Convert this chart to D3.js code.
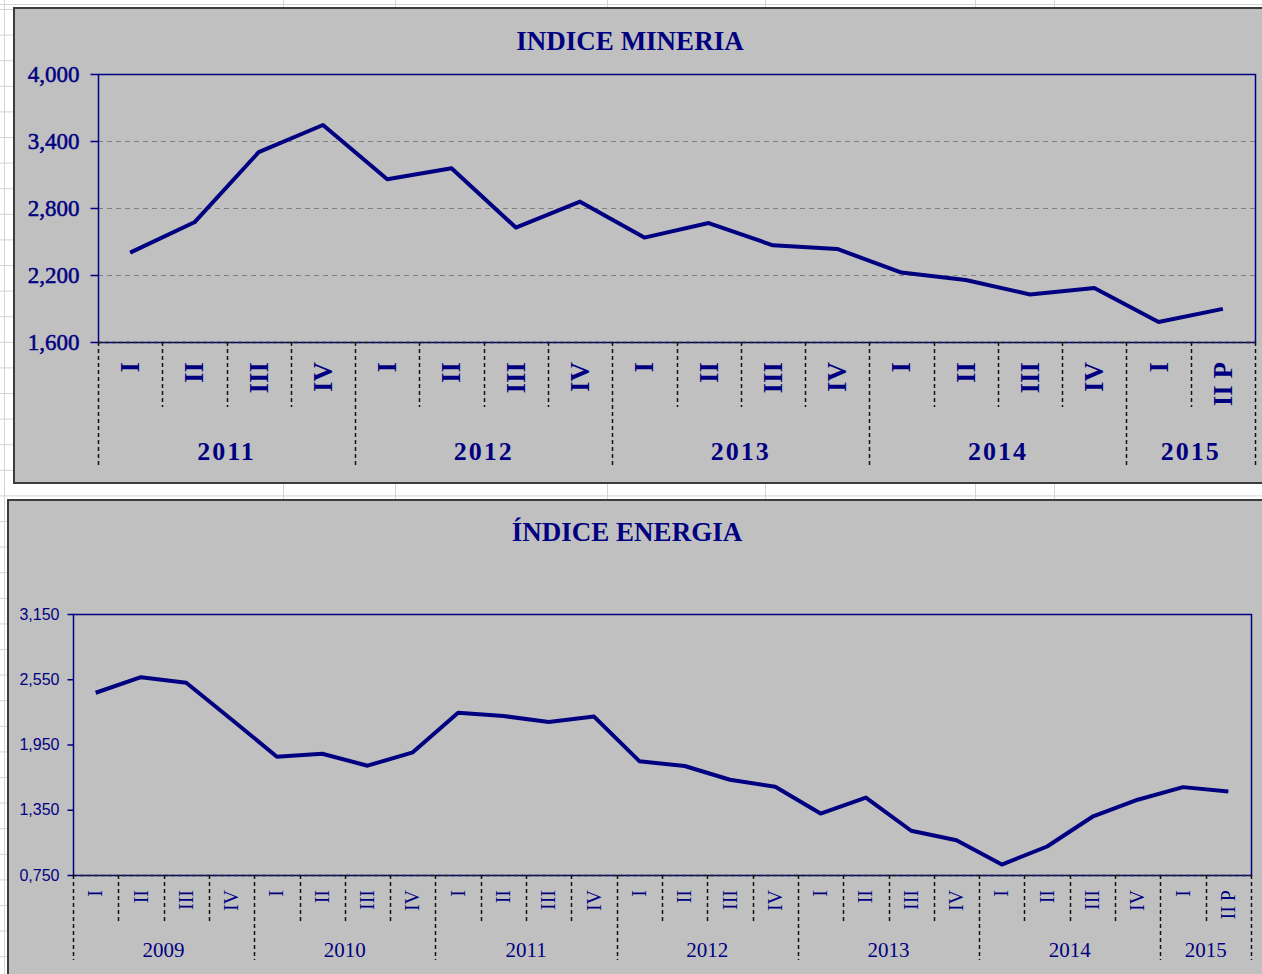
<!DOCTYPE html>
<html>
<head>
<meta charset="utf-8">
<script src="https://cdn.jsdelivr.net/npm/d3@7"></script>
<style>
  body { margin: 0; background: #fff; }
  svg { display: block; }
</style>
</head>
<body>
<div id="chart"></div>
<script>
// ---- data ----
const mineriaYears = ['2011', '2012', '2013', '2014', '2015'];
const mineriaQuarters = ['I', 'II', 'III', 'IV', 'I', 'II', 'III', 'IV', 'I', 'II', 'III', 'IV',
                         'I', 'II', 'III', 'IV', 'I', 'II P'];
const mineriaQuarterYear = ['2011', '2011', '2011', '2011', '2012', '2012', '2012', '2012',
                            '2013', '2013', '2013', '2013', '2014', '2014', '2014', '2014', '2015', '2015'];
const mineriaValues = [2400, 2672, 3300, 3543, 3057, 3156, 2625, 2857, 2535, 2665,
                       2466, 2433, 2222, 2155, 2026, 2084, 1779, 1897];
const mineriaTicks = [1600, 2200, 2800, 3400, 4000];
const mineriaTickLabels = ['1,600', '2,200', '2,800', '3,400', '4,000'];

const energiaYears = ['2009', '2010', '2011', '2012', '2013', '2014', '2015'];
const energiaQuarters = ['I', 'II', 'III', 'IV', 'I', 'II', 'III', 'IV', 'I', 'II', 'III', 'IV',
                         'I', 'II', 'III', 'IV', 'I', 'II', 'III', 'IV', 'I', 'II', 'III', 'IV', 'I', 'II P'];
const energiaQuarterYear = ['2009', '2009', '2009', '2009', '2010', '2010', '2010', '2010',
                            '2011', '2011', '2011', '2011', '2012', '2012', '2012', '2012',
                            '2013', '2013', '2013', '2013', '2014', '2014', '2014', '2014', '2015', '2015'];
const energiaValues = [2426, 2569, 2518, 2180, 1838, 1865, 1755, 1878, 2243, 2212,
                       2157, 2207, 1797, 1752, 1626, 1562, 1315, 1462, 1157, 1070,
                       846, 1012, 1286, 1442, 1558, 1518];
const energiaTicks = [750, 1350, 1950, 2550, 3150];
const energiaTickLabels = ['0,750', '1,350', '1,950', '2,550', '3,150'];

const W = 1262, H = 974;
const navy = '#000080';

const svg = d3.select('#chart').append('svg')
    .attr('width', W)
    .attr('height', H);

// spreadsheet cells behind the charts
const cells = svg.append('g').attr('stroke', '#d4d4d4').attr('stroke-width', 1);
[4, 283, 395, 607, 765, 975, 1054].forEach(x => {
  cells.append('line').attr('x1', x + 0.5).attr('x2', x + 0.5).attr('y1', 0).attr('y2', H);
});
cells.append('line').attr('x1', 0).attr('x2', W).attr('y1', 4.5).attr('y2', 4.5);
for (let y = 9.5; y < H; y += 25.6) {
  cells.append('line').attr('x1', 0).attr('x2', W).attr('y1', y).attr('y2', y);
}

function drawPanel(cfg) {
  const g = svg.append('g');

  // chart frame
  g.append('rect')
      .attr('x', cfg.frame.x).attr('y', cfg.frame.y)
      .attr('width', cfg.frame.w).attr('height', cfg.frame.h)
      .attr('fill', '#c0c0c0')
      .attr('stroke', '#3c3c3c')
      .attr('stroke-width', 2);

  g.append('text')
      .attr('x', cfg.titleX).attr('y', cfg.titleY)
      .attr('text-anchor', 'middle')
      .attr('font-family', 'Liberation Serif, serif')
      .attr('font-weight', 'bold')
      .attr('font-size', 27)
      .attr('fill', navy)
      .text(cfg.title);

  const p = cfg.plot;
  const x = d3.scaleBand()
      .domain(d3.range(cfg.values.length))
      .range([p.left, p.right])
      .paddingInner(0).paddingOuter(0);
  const y = d3.scaleLinear()
      .domain([cfg.ticks[0], cfg.ticks[cfg.ticks.length - 1]])
      .range([p.bottom, p.top]);

  // gridlines
  if (cfg.grid) {
    g.append('g').selectAll('line')
        .data(cfg.ticks.slice(1, -1))
      .join('line')
        .attr('x1', p.left).attr('x2', p.right)
        .attr('y1', d => Math.round(y(d)) + 0.5).attr('y2', d => Math.round(y(d)) + 0.5)
        .attr('stroke', '#808080')
        .attr('stroke-dasharray', '5,4');
  }

  // plot border
  g.append('rect')
      .attr('x', p.left + 0.5).attr('y', p.top + 0.5)
      .attr('width', p.right - p.left).attr('height', p.bottom - p.top)
      .attr('fill', 'none')
      .attr('stroke', navy)
      .attr('stroke-width', 1.5);
  g.append('line')
      .attr('x1', p.left).attr('x2', p.right)
      .attr('y1', p.bottom + 0.5).attr('y2', p.bottom + 0.5)
      .attr('stroke', '#222')
      .attr('stroke-width', 1.5)
      .attr('stroke-dasharray', '4,3');

  // y axis with D3
  const yAxis = d3.axisLeft(y)
      .tickValues(cfg.ticks)
      .tickFormat((d, i) => cfg.tickLabels[i])
      .tickSize(cfg.tickLen)
      .tickPadding(cfg.tickPad);
  const ya = g.append('g')
      .attr('transform', `translate(${p.left + 0.5},0)`)
      .call(yAxis);
  ya.select('.domain').remove();
  ya.selectAll('.tick line').attr('stroke', navy).attr('stroke-width', 1.5);
  ya.selectAll('.tick text')
      .attr('fill', navy)
      .attr('stroke', navy)
      .attr('stroke-width', cfg.yStroke)
      .attr('font-family', cfg.yFont)
      .attr('font-size', cfg.ySize);

  // category separators
  const sep = g.append('g')
      .attr('stroke', '#111')
      .attr('stroke-width', 1.5)
      .attr('stroke-dasharray', '4,3');
  d3.range(cfg.values.length + 1).forEach(i => {
    const isYear = i === 0 || i === cfg.values.length ||
        cfg.quarterYear[i] !== cfg.quarterYear[i - 1];
    const xx = i === cfg.values.length ? p.right : x(i);
    sep.append('line')
        .attr('x1', Math.round(xx) + 0.5).attr('x2', Math.round(xx) + 0.5)
        .attr('y1', p.bottom).attr('y2', isYear ? cfg.yearSepEnd : cfg.quarterSepEnd);
  });

  // quarter labels (rotated)
  g.append('g').selectAll('text')
      .data(cfg.quarters)
    .join('text')
      .attr('transform', (d, i) => `translate(${x(i) + x.bandwidth() / 2},${cfg.quarterY}) rotate(-90)`)
      .attr('text-anchor', 'end')
      .attr('dy', '0.33em')
      .attr('font-family', 'Liberation Serif, serif')
      .attr('font-weight', cfg.catWeight)
      .attr('font-size', cfg.quarterSize)
      .attr('fill', navy)
      .text(d => d);

  // year labels
  g.append('g').selectAll('text')
      .data(cfg.years)
    .join('text')
      .attr('x', yr => {
        const idx = cfg.quarterYear.map((q, i) => q === yr ? i : -1).filter(i => i >= 0);
        return (x(idx[0]) + x(idx[idx.length - 1]) + x.bandwidth()) / 2;
      })
      .attr('y', cfg.yearY)
      .attr('text-anchor', 'middle')
      .attr('font-family', 'Liberation Serif, serif')
      .attr('font-weight', cfg.catWeight)
      .attr('font-size', cfg.yearSize)
      .attr('letter-spacing', cfg.yearSpacing)
      .attr('fill', navy)
      .text(d => d);

  // the series
  const line = d3.line()
      .x((d, i) => x(i) + x.bandwidth() / 2)
      .y(d => y(d));
  g.append('path')
      .datum(cfg.values)
      .attr('d', line)
      .attr('fill', 'none')
      .attr('stroke', navy)
      .attr('stroke-width', 4)
      .attr('stroke-linejoin', 'round');
}

drawPanel({
  frame: {x: 14, y: 8, w: 1262, h: 475},
  title: 'INDICE MINERIA', titleX: 630, titleY: 50,
  plot: {left: 98, top: 74, right: 1255, bottom: 342},
  values: mineriaValues, quarters: mineriaQuarters, quarterYear: mineriaQuarterYear, years: mineriaYears,
  ticks: mineriaTicks, tickLabels: mineriaTickLabels,
  grid: true, tickLen: 8, tickPad: 11,
  yFont: 'Liberation Serif, serif', yStroke: 0.5, ySize: 23,
  catWeight: 'bold', quarterSize: 27, quarterY: 362, yearSize: 26, yearY: 460, yearSpacing: 2,
  quarterSepEnd: 407, yearSepEnd: 468
});

drawPanel({
  frame: {x: 8, y: 500, w: 1270, h: 490},
  title: 'ÍNDICE ENERGIA', titleX: 627, titleY: 541,
  plot: {left: 73, top: 614, right: 1251, bottom: 875},
  values: energiaValues, quarters: energiaQuarters, quarterYear: energiaQuarterYear, years: energiaYears,
  ticks: energiaTicks, tickLabels: energiaTickLabels,
  grid: false, tickLen: 6, tickPad: 8,
  yFont: 'Liberation Sans, sans-serif', yStroke: 0, ySize: 16,
  catWeight: 'normal', quarterSize: 20, quarterY: 890, yearSize: 21, yearY: 957, yearSpacing: 0,
  quarterSepEnd: 921, yearSepEnd: 960
});
</script>
</body>
</html>
